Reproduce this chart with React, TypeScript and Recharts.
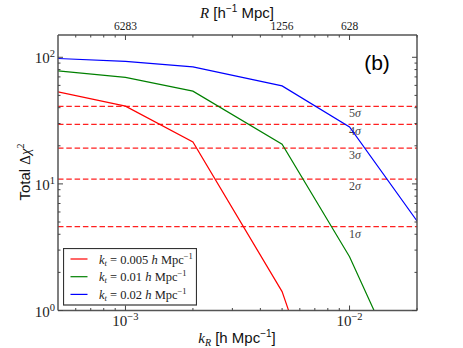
import React from "react";
import {
  LineChart,
  Line,
  XAxis,
  YAxis,
  ReferenceLine,
  Legend,
} from "recharts";

// k_R sample points (h Mpc^-1)
const kR = [0.0005, 0.001, 0.002, 0.005, 0.01, 0.02];
// Total delta chi^2 per k_t
const chi2Kt005 = [53.3, 41.1, 21.4, 1.41, 0.04, 0.002];
const chi2Kt01 = [78.1, 69.3, 54.0, 20.6, 2.66, 0.18];
const chi2Kt02 = [97.8, 92.7, 84.0, 59.4, 28.2, 5.1];

const seriesNames = ["0.005", "0.01", "0.02"];
const seriesColors = ["#ff0000", "#008000", "#0000ff"];

const sigmaLevels = [4.6, 10.9, 19.2, 29.5, 40.9];
const sigmaNames = ["1", "2", "3", "4", "5"];

const xMajor = [0.001, 0.01];
const xTicks = [
  0.0006, 0.0007, 0.0008, 0.0009, 0.001, 0.002, 0.003, 0.004, 0.005, 0.006,
  0.007, 0.008, 0.009, 0.01, 0.02,
];
const yMajor = [1, 10, 100];
const yTicks = [1, 2, 3, 4, 5, 6, 7, 8, 9, 10, 20, 30, 40, 50, 60, 70, 80, 90, 100];

// top axis: R = 2*pi / k_R
const topTickK = [0.001, 0.005, 0.01];
const topTickR = ["6283", "1256", "628"];

const data = kR.map((k, i) => ({
  k,
  a: chi2Kt005[i],
  b: chi2Kt01[i],
  c: chi2Kt02[i],
}));

const LEFT = 58;
const RIGHT = 417;
const TOP = 35;
const BOTTOM = 310.5;
const W = 463;
const H = 348;

const FRAME = "#555";
const SERIF = "'Liberation Serif', 'DejaVu Serif', serif";
const SANS = "'Liberation Sans', Arial, sans-serif";

const Pow10 = ({ x, y, exp, anchor }: any) => (
  <text x={x} y={y} textAnchor={anchor} fontFamily={SERIF} fontSize={15} fill="#222">
    <tspan>10</tspan>
    <tspan dy={-6} fontSize={10.5}>
      {exp}
    </tspan>
  </text>
);

const BottomTick = ({ x, payload }: any) => {
  const v = payload.value;
  const major = xMajor.includes(v);
  return (
    <g>
      <line x1={x} x2={x} y1={BOTTOM} y2={BOTTOM - (major ? 5 : 2.5)} stroke="#444" />
      {major && (
        <Pow10 x={x} y={BOTTOM + 15} exp={"\u2212" + Math.round(-Math.log10(v))} anchor="middle" />
      )}
    </g>
  );
};

const TopTick = ({ x, payload }: any) => {
  const v = payload.value;
  const major = xMajor.includes(v);
  const idx = topTickK.indexOf(v);
  return (
    <g>
      <line x1={x} x2={x} y1={TOP} y2={TOP + (major ? 5 : 2.5)} stroke="#444" />
      {idx >= 0 && (
        <text x={x} y={TOP - 5} textAnchor="middle" fontFamily={SERIF} fontSize={11.5} fill="#222">
          {topTickR[idx]}
        </text>
      )}
    </g>
  );
};

const LeftTick = ({ y, payload }: any) => {
  const v = payload.value;
  const major = yMajor.includes(v);
  return (
    <g>
      <line x1={LEFT} x2={LEFT + (major ? 5 : 2.5)} y1={y} y2={y} stroke="#444" />
      {major && <Pow10 x={LEFT - 3} y={y + 6} exp={String(Math.round(Math.log10(v)))} anchor="end" />}
    </g>
  );
};

const RightTick = ({ y, payload }: any) => {
  const major = yMajor.includes(payload.value);
  return <line x1={RIGHT} x2={RIGHT - (major ? 5 : 2.5)} y1={y} y2={y} stroke="#444" />;
};

const TopTitle = () => (
  <g>
    <text x={237} y={18} textAnchor="middle" fontSize={15} fill="#111">
      <tspan fontFamily={SERIF} fontStyle="italic">R</tspan>
      <tspan fontFamily={SANS}> [h</tspan>
      <tspan fontFamily={SANS} fontSize={10} dy={-6}>{"\u22121"}</tspan>
      <tspan fontFamily={SANS} dy={6}> Mpc]</tspan>
    </text>
    <text x={377} y={70} textAnchor="middle" fontFamily={SANS} fontSize={21} fill="#000">
      (b)
    </text>
  </g>
);

const BottomTitle = () => (
  <text x={237} y={343} textAnchor="middle" fontSize={15} fill="#111">
    <tspan fontFamily={SERIF} fontStyle="italic">k</tspan>
    <tspan fontFamily={SERIF} fontStyle="italic" fontSize={10} dy={3}>R</tspan>
    <tspan fontFamily={SANS} dy={-3}> [h Mpc</tspan>
    <tspan fontFamily={SANS} fontSize={10} dy={-6}>{"\u22121"}</tspan>
    <tspan fontFamily={SANS} dy={6}>]</tspan>
  </text>
);

const LeftTitle = () => (
  <text
    x={0}
    y={0}
    transform="translate(30,172) rotate(-90)"
    textAnchor="middle"
    fontSize={15}
    fill="#111"
  >
    <tspan fontFamily={SANS}>Total </tspan>
    <tspan fontFamily={SERIF}>{"\u0394"}</tspan>
    <tspan fontFamily={SERIF} fontStyle="italic">{"\u03c7"}</tspan>
    <tspan fontFamily={SERIF} fontSize={10} dy={-6}>2</tspan>
  </text>
);

const SigmaLabel = (n: string) => (props: any) => {
  const vb = props.viewBox || {};
  return (
    <text
      x={(vb.x ?? LEFT) + 297}
      y={(vb.y ?? 0) + 11}
      textAnchor="middle"
      fontFamily={SERIF}
      fontSize={12}
      fill="#444"
    >
      {n}
      <tspan fontStyle="italic">{"\u03c3"}</tspan>
    </text>
  );
};

const LegendBox = ({ payload }: any) => (
  <svg width={134} height={58} style={{ display: "block" }}>
    <rect x={0.5} y={0.5} width={133} height={56.5} fill="#fff" stroke="#333" strokeWidth={1.2} />
    {(payload || []).map((p: any, i: number) => {
      const cy = 11 + i * 17.7;
      return (
        <g key={i}>
          <line x1={7.5} x2={24.5} y1={cy} y2={cy} stroke={p.color} strokeWidth={1.2} />
          <text x={36} y={cy + 4.5} fontFamily={SERIF} fontSize={12.5} fill="#222">
            <tspan fontStyle="italic">k</tspan>
            <tspan fontSize={8.5} fontStyle="italic" dy={2}>t</tspan>
            <tspan dy={-2}>{" = " + p.value + " "}</tspan>
            <tspan fontStyle="italic">h</tspan>
            <tspan> Mpc</tspan>
            <tspan fontSize={8.5} dy={-5}>{"\u22121"}</tspan>
          </text>
        </g>
      );
    })}
  </svg>
);

export default function App() {
  const series = [
    { key: "a", name: seriesNames[0], color: seriesColors[0] },
    { key: "b", name: seriesNames[1], color: seriesColors[1] },
    { key: "c", name: seriesNames[2], color: seriesColors[2] },
  ];
  return (
    <div style={{ position: "absolute", left: 0, top: 0, width: W, height: H, background: "#fff" }}>
      <LineChart width={W} height={H} data={data} margin={{ top: 0, right: 0, bottom: 0, left: 0 }}>
        <XAxis
          dataKey="k"
          type="number"
          scale="log"
          domain={[0.0005, 0.02]}
          allowDataOverflow
          ticks={xTicks}
          interval={0}
          tick={<BottomTick />}
          tickLine={false}
          axisLine={{ stroke: FRAME, strokeWidth: 1.5 }}
          height={H - BOTTOM}
          label={<BottomTitle />}
        />
        <XAxis
          xAxisId="top"
          orientation="top"
          dataKey="k"
          type="number"
          scale="log"
          domain={[0.0005, 0.02]}
          allowDataOverflow
          ticks={xTicks}
          interval={0}
          tick={<TopTick />}
          tickLine={false}
          axisLine={{ stroke: FRAME, strokeWidth: 1.5 }}
          height={TOP}
          label={<TopTitle />}
        />
        <YAxis
          type="number"
          scale="log"
          domain={[1, 150]}
          allowDataOverflow
          ticks={yTicks}
          interval={0}
          tick={<LeftTick />}
          tickLine={false}
          axisLine={{ stroke: FRAME, strokeWidth: 1.5 }}
          width={LEFT}
          label={<LeftTitle />}
        />
        <YAxis
          yAxisId="right"
          orientation="right"
          type="number"
          scale="log"
          domain={[1, 150]}
          allowDataOverflow
          ticks={yTicks}
          interval={0}
          tick={<RightTick />}
          tickLine={false}
          axisLine={{ stroke: FRAME, strokeWidth: 1.5 }}
          width={W - RIGHT}
        />
        {sigmaLevels.map((s, i) => (
          <ReferenceLine
            key={s}
            y={s}
            stroke="#ff2020"
            strokeWidth={1.2}
            strokeDasharray="5.5 2.8"
            label={SigmaLabel(sigmaNames[i])}
          />
        ))}
        {series.map((s) => (
          <Line
            key={s.key}
            dataKey={s.key}
            name={s.name}
            stroke={s.color}
            strokeWidth={1.2}
            dot={false}
            type="linear"
            isAnimationActive={false}
          />
        ))}
        <Legend
          layout="vertical"
          align="center"
          verticalAlign="middle"
          wrapperStyle={{ left: 63, top: 247.5, width: 134, height: 58 }}
          content={<LegendBox />}
        />
      </LineChart>
    </div>
  );
}
